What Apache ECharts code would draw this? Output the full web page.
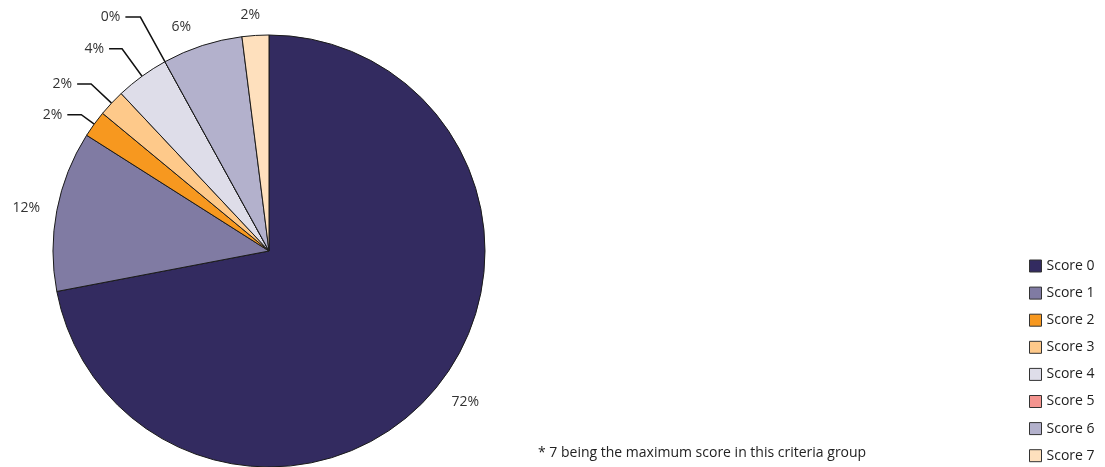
<!DOCTYPE html>
<html><head><meta charset="utf-8">
<script src="https://cdn.jsdelivr.net/npm/echarts@6/dist/echarts.min.js"></script>
<style>html,body{margin:0;padding:0;background:#fff}#c{width:1105px;height:467px}</style>
</head><body><div id="c"></div>
<script>
const categories = ['Score 0','Score 1','Score 2','Score 3','Score 4','Score 5','Score 6','Score 7'];
const counts = [36, 6, 1, 1, 2, 0, 3, 1];
const colors = ['#332b60','#807ba3','#f7981f','#fec98a','#dedde9','#f4948f','#b3b1cc','#fee0bd'];
const footnote = '* 7 being the maximum score in this criteria group';

// leader-line styling per slice (style only, no data)
const lineStyleBySlice = {
  'Score 0': {show:false, length:21, length2:0},
  'Score 1': {show:false, length:12, length2:0},
  'Score 2': {show:true,  length:16, length2:14},
  'Score 3': {show:true,  length:28, length2:14},
  'Score 4': {show:true,  length:34, length2:13},
  'Score 5': {show:true,  length:51, length2:15},
  'Score 6': {show:false, length:20, length2:0},
  'Score 7': {show:false, length:20, length2:0}
};

const total = counts.reduce((a,b)=>a+b,0);
const font = '"Open Sans", sans-serif';
const chart = echarts.init(document.getElementById('c'));
chart.setOption({
  animation:false,
  color: colors,
  legend:{
    orient:'vertical', left:1029, top:259, height:208, padding:0, itemWidth:12, itemHeight:12, itemGap:13.1,
    icon:'rect',
    itemStyle:{borderColor:'#333', borderWidth:1},
    textStyle:{fontFamily:font, fontSize:14, color:'#222', lineHeight:14},
    data: categories
  },
  graphic:[{type:'text', left:538, top:446, style:{text:footnote, font:'14px '+font, fill:'#222'}}],
  series:[{
    type:'pie', center:[269,251], radius:216, startAngle:90, clockwise:true,
    avoidLabelOverlap:false,
    itemStyle:{borderColor:'#1a1a1a', borderWidth:1},
    label:{show:true, position:'outside', fontFamily:font, fontSize:14, color:'#333', overflow:'none',
      formatter:p=>Math.round(p.value/total*100)+'%'},
    labelLine:{show:true, lineStyle:{color:'#111', width:1.5}},
    emphasis:{disabled:true},
    data: categories.map((n,i)=>{
      const d = {name:n, value:counts[i], labelLine:lineStyleBySlice[n]};
      if(n==='Score 7') d.label = {distanceToLabelLine:-6};
      if(n==='Score 0') d.label = {distanceToLabelLine:0};
      return d;
    })
  }]
});
</script></body></html>
